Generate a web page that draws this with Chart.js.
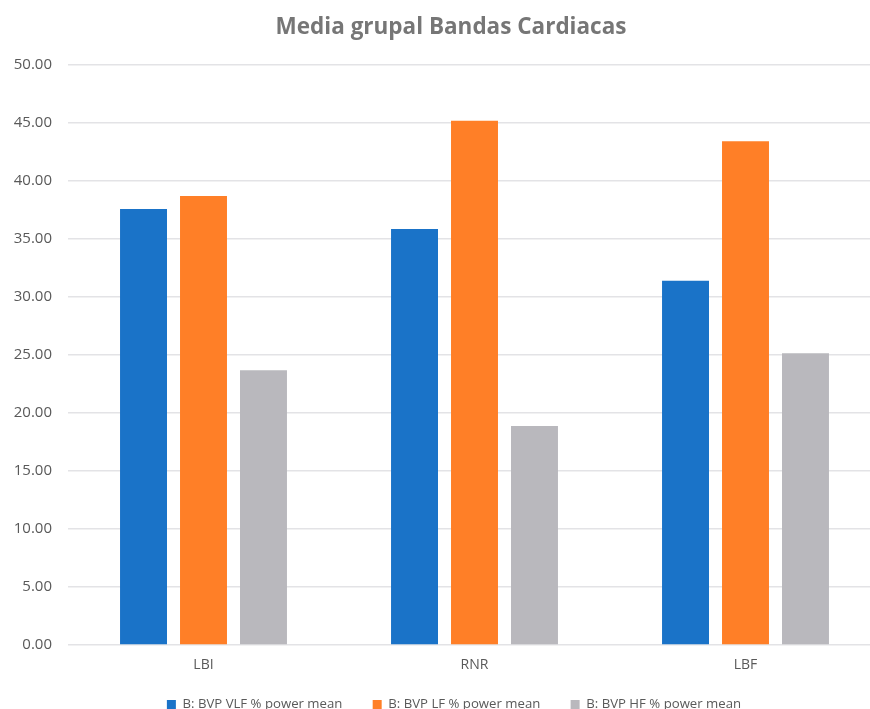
<!DOCTYPE html>
<html>
<head>
<meta charset="utf-8">
<script src="https://cdn.jsdelivr.net/npm/chart.js@4/dist/chart.umd.min.js"></script>
<style>
  html, body { margin: 0; padding: 0; overflow: hidden; background: #fff; }
  #wrap { width: 902px; height: 721px; position: relative; }
</style>
</head>
<body>
<div id="wrap"><canvas id="chart"></canvas></div>
<script>
const categories = ["LBI", "RNR", "LBF"];
const seriesNames = ["B: BVP VLF % power mean", "B: BVP LF % power mean", "B: BVP HF % power mean"];
const vlfValues = [37.59, 35.86, 31.41];
const lfValues = [38.71, 45.20, 43.42];
const hfValues = [23.68, 18.88, 25.15];
const yTicks = [0, 5, 10, 15, 20, 25, 30, 35, 40, 45, 50];

const colors = ["#1a73c8", "#ff7f27", "#b9b8bd"];
const font = "'Open Sans', 'Noto Sans', sans-serif";

// title and legend sit a little right of the plot centre in the original
const nudge = {
  id: 'nudge',
  afterLayout(chart) {
    chart.titleBlock.left += 4.5; chart.titleBlock.right += 4.5;
    chart.legend.left += 7.5; chart.legend.right += 7.5;
  }
};

new Chart(document.getElementById("chart"), {
  type: 'bar',
  data: {
    labels: categories,
    datasets: [vlfValues, lfValues, hfValues].map((vals, i) => ({
      label: seriesNames[i],
      data: vals,
      backgroundColor: colors[i],
      categoryPercentage: 0.664,
      barPercentage: 0.783
    }))
  },
  plugins: [nudge],
  options: {
    responsive: true,
    maintainAspectRatio: false,
    animation: false,
    layout: { padding: { left: 12, right: 21, top: 0, bottom: 0 } },
    plugins: {
      title: {
        display: true,
        text: "Media grupal Bandas Cardiacas",
        color: "#767676",
        font: { family: font, size: 22.5, weight: 'bold' },
        padding: { top: 14, bottom: 24 }
      },
      legend: {
        position: 'bottom',
        labels: {
          color: "#595959",
          font: { family: font, size: 13.2 },
          boxWidth: 9,
          boxHeight: 9,
          padding: 20,
          // extra room between items, like the original
          generateLabels: (chart) => {
            const items = Chart.defaults.plugins.legend.labels.generateLabels(chart);
            items.forEach((it, i) => { if (i < items.length - 1) it.text += '   '; });
            return items;
          }
        }
      },
      tooltip: { enabled: false }
    },
    scales: {
      x: {
        grid: { display: false },
        border: { display: false },
        ticks: { color: "#595959", font: { family: font, size: 14 }, padding: 4 }
      },
      y: {
        min: 0,
        max: 50,
        afterBuildTicks: (axis) => { axis.ticks = yTicks.map(v => ({ value: v })); },
        afterFit: (axis) => { axis.width = 56; },
        grid: { color: "#e3e3e6", lineWidth: 1.5, drawTicks: false },
        border: { display: false },
        ticks: {
          color: "#595959",
          font: { family: font, size: 15 },
          padding: 16,
          callback: (v) => Number(v).toFixed(2)
        }
      }
    }
  }
});
</script>
</body>
</html>
